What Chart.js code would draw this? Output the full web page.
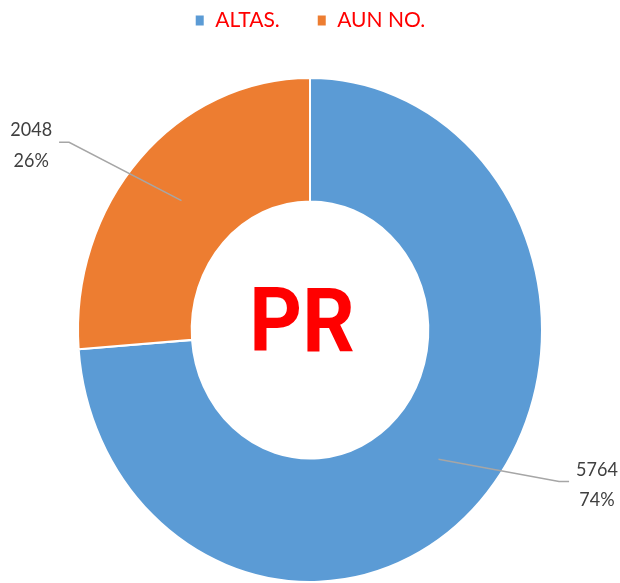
<!DOCTYPE html>
<html>
<head>
<meta charset="utf-8">
<script src="https://cdn.jsdelivr.net/npm/chart.js@4.4.1/dist/chart.umd.min.js"></script>
<style>
  html, body { margin: 0; background: #fff; overflow: hidden; }
  #wrap { width: 620px; height: 619px; position: relative; }
</style>
</head>
<body>
<div id="wrap"><canvas id="pr"></canvas></div>
<script>
const categories = ['ALTAS.', 'AUN NO.']
const values = [5764, 2048]
const colors = ['#5B9BD5', '#ED7D31']
const centerText = 'PR'

// where each data label's leader line ends, in units of the ring radius
const labelAnchors = [[1.069, 0.599], [-1.034, -0.742]]

// the original picture is a bit taller than wide
const stretchY = 252 / 232

const ellipse = {
  id: 'ellipse',
  beforeDatasetsDraw(chart) {
    const arc = chart.getDatasetMeta(0).data[0]
    const ctx = chart.ctx
    ctx.save()
    ctx.translate(arc.x, arc.y)
    ctx.scale(1, stretchY)
    ctx.translate(-arc.x, -arc.y)
  },
  afterDatasetsDraw(chart) {
    chart.ctx.restore()
  },
}

const labels = {
  id: 'outLabels',
  afterDraw(chart) {
    const ctx = chart.ctx
    const meta = chart.getDatasetMeta(0)
    const total = values.reduce((a, b) => a + b, 0)
    meta.data.forEach((arc, i) => {
      const mid = (arc.startAngle + arc.endAngle) / 2
      const rMid = (arc.innerRadius + arc.outerRadius) / 2
      const r = arc.outerRadius + 1
      const sx = arc.x + Math.cos(mid) * rMid
      const sy = arc.y + Math.sin(mid) * rMid * stretchY
      const ex = arc.x + labelAnchors[i][0] * r
      const ey = arc.y + labelAnchors[i][1] * r * stretchY
      const side = ex > arc.x ? 1 : -1
      const tx = ex + side * 10

      ctx.save()
      ctx.strokeStyle = '#A6A6A6'
      ctx.lineWidth = 1.5
      ctx.beginPath()
      ctx.moveTo(sx, sy)
      ctx.lineTo(ex, ey)
      ctx.lineTo(tx, ey)
      ctx.stroke()

      const lines = [String(values[i]), Math.round((values[i] / total) * 100) + '%']
      ctx.font = '18px Lato'
      const w = Math.max(...lines.map((l) => ctx.measureText(l).width))
      const cx = tx + side * (7 + w / 2)
      const cy = ey + 3
      ctx.fillStyle = '#404040'
      ctx.textAlign = 'center'
      ctx.textBaseline = 'middle'
      ctx.translate(cx, cy)
      ctx.scale(1, stretchY)
      ctx.fillText(lines[0], 0, -14)
      ctx.fillText(lines[1], 0, 14)
      ctx.restore()
    })

    const a = meta.data[0]
    ctx.save()
    ctx.font = 'bold 82px Roboto'
    ctx.fillStyle = '#FF0000'
    ctx.textAlign = 'center'
    ctx.textBaseline = 'middle'
    ctx.translate(a.x - 8, a.y - 1)
    ctx.scale(1, stretchY)
    ctx.fillText(centerText, 0, 0)
    ctx.restore()
  },
}

new Chart(document.getElementById('pr'), {
  type: 'doughnut',
  data: {
    labels: categories,
    datasets: [
      {
        data: values,
        backgroundColor: colors,
        borderColor: '#fff',
        borderWidth: 2,
        hoverOffset: 0,
      },
    ],
  },
  options: {
    responsive: true,
    maintainAspectRatio: false,
    animation: false,
    cutout: '51%',
    layout: { padding: { top: -27, left: 77, right: 77, bottom: 0 } },
    plugins: {
      legend: {
        position: 'top',
        labels: {
          boxWidth: 10,
          boxHeight: 12,
          padding: 37,
          color: '#FF0000',
          font: { family: 'Lato', size: 21 },
        },
      },
      tooltip: { enabled: false },
    },
  },
  plugins: [ellipse, labels],
})
</script>
</body>
</html>
